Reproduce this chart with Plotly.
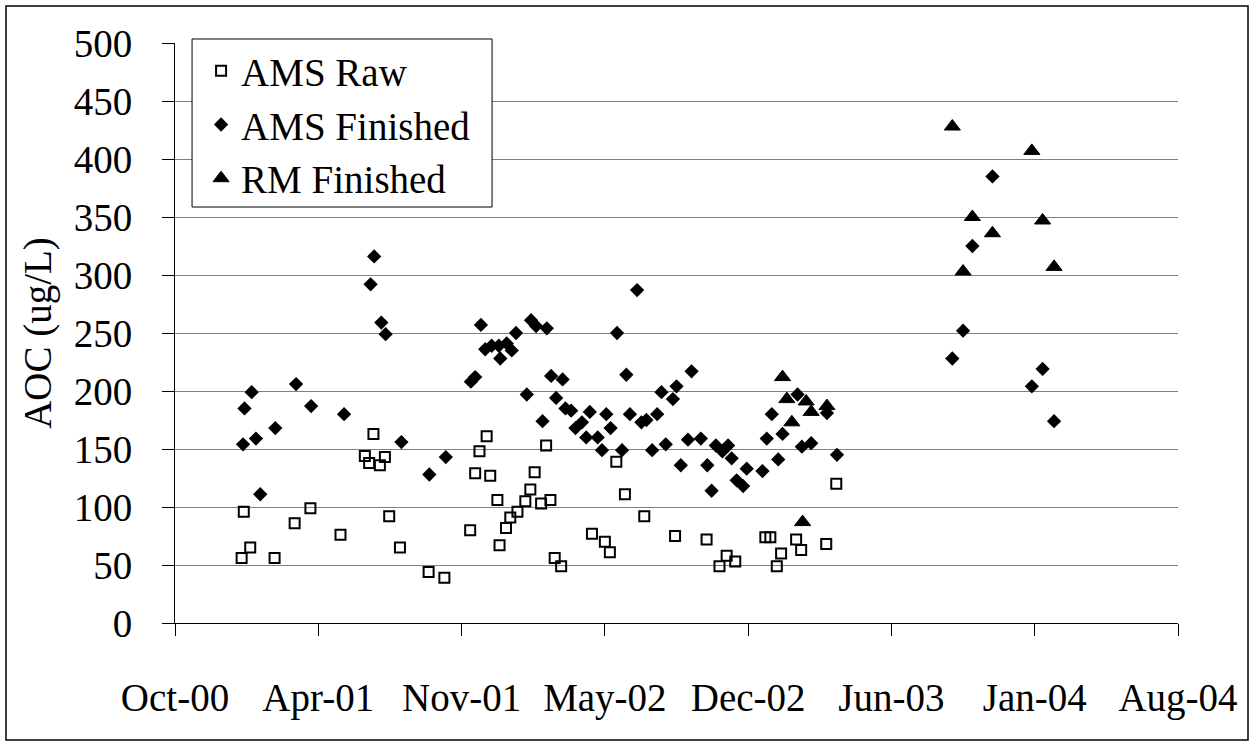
import plotly.graph_objects as go

# AMS raw water samples
raw_dates = [
    "2001-01-02", "2001-01-05", "2001-01-14", "2001-02-17", "2001-03-17", "2001-04-08",
    "2001-05-20", "2001-06-23", "2001-06-29", "2001-07-05", "2001-07-14", "2001-07-21",
    "2001-07-27", "2001-08-11", "2001-09-20", "2001-10-12", "2001-11-17", "2001-11-24",
    "2001-11-30", "2001-12-10", "2001-12-15", "2001-12-25", "2001-12-28", "2002-01-06",
    "2002-01-12", "2002-01-22", "2002-02-02", "2002-02-09", "2002-02-15", "2002-02-24",
    "2002-03-03", "2002-03-09", "2002-03-15", "2002-03-24", "2002-05-06", "2002-05-24",
    "2002-05-31", "2002-06-09", "2002-06-21", "2002-07-18", "2002-08-30", "2002-10-13",
    "2002-10-31", "2002-11-10", "2002-11-22", "2003-01-03", "2003-01-10", "2003-01-19",
    "2003-01-25", "2003-02-15", "2003-02-22", "2003-03-29", "2003-04-12",
]
raw_aoc = [
    56, 96, 65, 56, 86, 99,
    76, 144, 138, 163, 136, 143,
    92, 65, 44, 39, 80, 129,
    148, 161, 127, 106, 67, 82,
    91, 96, 105, 115, 130, 103,
    153, 106, 56, 49, 77, 70,
    61, 139, 111, 92, 75, 72,
    49, 58, 53, 74, 74, 49,
    60, 72, 63, 68, 120,
]

# AMS finished water samples
ams_fin_dates = [
    "2001-01-04", "2001-01-06", "2001-01-16", "2001-01-22", "2001-01-28", "2001-02-18",
    "2001-03-19", "2001-04-09", "2001-05-25", "2001-07-01", "2001-07-06", "2001-07-16",
    "2001-07-22", "2001-08-13", "2001-09-21", "2001-10-14", "2001-11-18", "2001-11-24",
    "2001-12-02", "2001-12-08", "2001-12-17", "2001-12-27", "2001-12-29", "2002-01-07",
    "2002-01-14", "2002-01-20", "2002-02-04", "2002-02-10", "2002-02-17", "2002-02-26",
    "2002-03-04", "2002-03-10", "2002-03-17", "2002-03-26", "2002-03-30", "2002-04-07",
    "2002-04-13", "2002-04-22", "2002-04-28", "2002-05-03", "2002-05-14", "2002-05-20",
    "2002-05-26", "2002-06-01", "2002-06-10", "2002-06-17", "2002-06-23", "2002-06-28",
    "2002-07-08", "2002-07-14", "2002-07-21", "2002-07-29", "2002-08-05", "2002-08-11",
    "2002-08-17", "2002-08-27", "2002-09-01", "2002-09-07", "2002-09-17", "2002-09-22",
    "2002-10-05", "2002-10-14", "2002-10-20", "2002-10-26", "2002-11-04", "2002-11-12",
    "2002-11-17", "2002-11-24", "2002-12-03", "2002-12-08", "2002-12-30", "2003-01-05",
    "2003-01-12", "2003-01-21", "2003-01-27", "2003-02-17", "2003-02-23", "2003-03-08",
    "2003-03-30", "2003-04-13", "2003-09-21", "2003-10-06", "2003-10-19", "2003-11-16",
    "2004-01-10", "2004-01-25", "2004-02-10",
]
ams_fin_aoc = [
    154, 185, 199, 159, 111, 168,
    206, 187, 180, 292, 316, 259,
    249, 156, 128, 143, 208, 212,
    257, 236, 239, 239, 228, 241,
    235, 250, 197, 261, 256, 174,
    254, 213, 194, 210, 185, 183,
    168, 173, 160, 182, 160, 149,
    180, 168, 250, 149, 214, 180,
    287, 173, 175, 149, 180, 199,
    154, 193, 204, 136, 158, 217,
    159, 136, 114, 153, 148, 153,
    142, 123, 118, 133, 131, 159,
    180, 141, 163, 197, 152, 155,
    181, 145, 228, 252, 325, 385,
    204, 219, 174,
]

# RM finished water samples
rm_fin_dates = [
    "2003-01-27", "2003-02-02", "2003-02-09", "2003-02-24", "2003-03-01", "2003-03-08",
    "2003-03-30", "2003-09-21", "2003-10-06", "2003-10-19", "2003-11-16", "2004-01-10",
    "2004-01-25", "2004-02-10",
]
rm_fin_aoc = [
    212, 193, 173, 87, 191, 182,
    187, 428, 303, 350, 336, 407,
    347, 307,
]

# Date axis: ticks every 200 days from 1 Oct 2000
axis_start = "2000-10-01"
axis_end = "2004-08-01"
tick_step_days = 200

FONT = "Liberation Serif"
FS = 39

fig = go.Figure()
fig.add_trace(go.Scatter(
    x=raw_dates, y=raw_aoc, mode="markers", name="AMS Raw",
    marker=dict(symbol="square-open", size=10, color="black", line=dict(width=2, color="black")),
))
fig.add_trace(go.Scatter(
    x=ams_fin_dates, y=ams_fin_aoc, mode="markers", name="AMS Finished",
    marker=dict(symbol="diamond", size=11, color="black"),
))
fig.add_trace(go.Scatter(
    x=rm_fin_dates, y=rm_fin_aoc, mode="markers", name="RM Finished",
    marker=dict(symbol="triangle-up", size=14, color="black", line=dict(width=1, color="black")),
))

fig.update_layout(
    width=1255, height=751,
    margin=dict(l=175, r=77, t=43, b=128),
    paper_bgcolor="white", plot_bgcolor="white",
    font=dict(family=FONT, color="black", size=FS),
    showlegend=True,
    legend=dict(
        x=0.026, y=1.007, xanchor="left", yanchor="top",
        bgcolor="rgba(0,0,0,0)", borderwidth=0,
        font=dict(family=FONT, size=FS, color="black"),
        tracegroupgap=0, itemsizing="trace",
    ),
    xaxis=dict(
        type="date", range=[axis_start, axis_end],
        tick0=axis_start, dtick=tick_step_days * 86400000, tickformat="%b-%y",
        ticks="outside", ticklen=12, tickcolor="black", tickwidth=1,
        showline=True, linecolor="black", linewidth=1,
        showgrid=False, zeroline=False,
        tickfont=dict(family=FONT, size=FS, color="black"),
        ticklabelstandoff=28,
    ),
    yaxis=dict(
        range=[0, 500], dtick=50,
        ticks="outside", ticklen=12, tickcolor="black", tickwidth=1,
        showline=True, linecolor="black", linewidth=1,
        showgrid=True, gridcolor="#808080", gridwidth=1,
        zeroline=False,
        tickfont=dict(family=FONT, size=FS, color="black"),
        ticklabelstandoff=22,
        title=dict(text="AOC (ug/L)", font=dict(family=FONT, size=FS, color="black"), standoff=10),
    ),
    shapes=[
        # chart frame
        dict(type="rect", xref="paper", yref="paper",
             x0=-0.1685, x1=1.0698, y0=-0.2017, y1=1.0638,
             line=dict(color="black", width=1.5), fillcolor="rgba(0,0,0,0)", layer="below"),
        # legend frame
        dict(type="rect", xref="paper", yref="paper",
             x0=0.0170, x1=0.3161, y0=0.7172, y1=1.0069,
             line=dict(color="black", width=1), fillcolor="white", layer="above"),
    ],
)

fig.write_html("out.html")
